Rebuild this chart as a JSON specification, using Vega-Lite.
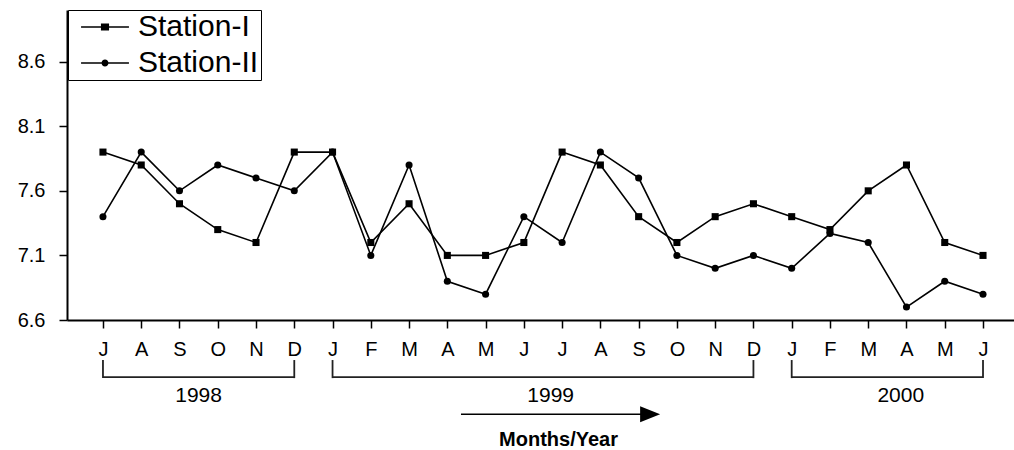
{
  "$schema": "https://vega.github.io/schema/vega-lite/v6.json",
  "width": 947,
  "height": 310,
  "autosize": {"type": "none"},
  "padding": {"left": 67, "top": 10, "right": 0, "bottom": 130},
  "background": "white",
  "config": {"view": {"stroke": null}, "font": "Liberation Sans"},
  "datasets": {
    "obs": [
      {"t": 0, "month": "Jul 1998", "station": "Station-I", "value": 7.9},
      {"t": 1, "month": "Aug 1998", "station": "Station-I", "value": 7.8},
      {"t": 2, "month": "Sep 1998", "station": "Station-I", "value": 7.5},
      {"t": 3, "month": "Oct 1998", "station": "Station-I", "value": 7.3},
      {"t": 4, "month": "Nov 1998", "station": "Station-I", "value": 7.2},
      {"t": 5, "month": "Dec 1998", "station": "Station-I", "value": 7.9},
      {"t": 6, "month": "Jan 1999", "station": "Station-I", "value": 7.9},
      {"t": 7, "month": "Feb 1999", "station": "Station-I", "value": 7.2},
      {"t": 8, "month": "Mar 1999", "station": "Station-I", "value": 7.5},
      {"t": 9, "month": "Apr 1999", "station": "Station-I", "value": 7.1},
      {"t": 10, "month": "May 1999", "station": "Station-I", "value": 7.1},
      {"t": 11, "month": "Jun 1999", "station": "Station-I", "value": 7.2},
      {"t": 12, "month": "Jul 1999", "station": "Station-I", "value": 7.9},
      {"t": 13, "month": "Aug 1999", "station": "Station-I", "value": 7.8},
      {"t": 14, "month": "Sep 1999", "station": "Station-I", "value": 7.4},
      {"t": 15, "month": "Oct 1999", "station": "Station-I", "value": 7.2},
      {"t": 16, "month": "Nov 1999", "station": "Station-I", "value": 7.4},
      {"t": 17, "month": "Dec 1999", "station": "Station-I", "value": 7.5},
      {"t": 18, "month": "Jan 2000", "station": "Station-I", "value": 7.4},
      {"t": 19, "month": "Feb 2000", "station": "Station-I", "value": 7.3},
      {"t": 20, "month": "Mar 2000", "station": "Station-I", "value": 7.6},
      {"t": 21, "month": "Apr 2000", "station": "Station-I", "value": 7.8},
      {"t": 22, "month": "May 2000", "station": "Station-I", "value": 7.2},
      {"t": 23, "month": "Jun 2000", "station": "Station-I", "value": 7.1},
      {"t": 0, "month": "Jul 1998", "station": "Station-II", "value": 7.4},
      {"t": 1, "month": "Aug 1998", "station": "Station-II", "value": 7.9},
      {"t": 2, "month": "Sep 1998", "station": "Station-II", "value": 7.6},
      {"t": 3, "month": "Oct 1998", "station": "Station-II", "value": 7.8},
      {"t": 4, "month": "Nov 1998", "station": "Station-II", "value": 7.7},
      {"t": 5, "month": "Dec 1998", "station": "Station-II", "value": 7.6},
      {"t": 6, "month": "Jan 1999", "station": "Station-II", "value": 7.9},
      {"t": 7, "month": "Feb 1999", "station": "Station-II", "value": 7.1},
      {"t": 8, "month": "Mar 1999", "station": "Station-II", "value": 7.8},
      {"t": 9, "month": "Apr 1999", "station": "Station-II", "value": 6.9},
      {"t": 10, "month": "May 1999", "station": "Station-II", "value": 6.8},
      {"t": 11, "month": "Jun 1999", "station": "Station-II", "value": 7.4},
      {"t": 12, "month": "Jul 1999", "station": "Station-II", "value": 7.2},
      {"t": 13, "month": "Aug 1999", "station": "Station-II", "value": 7.9},
      {"t": 14, "month": "Sep 1999", "station": "Station-II", "value": 7.7},
      {"t": 15, "month": "Oct 1999", "station": "Station-II", "value": 7.1},
      {"t": 16, "month": "Nov 1999", "station": "Station-II", "value": 7.0},
      {"t": 17, "month": "Dec 1999", "station": "Station-II", "value": 7.1},
      {"t": 18, "month": "Jan 2000", "station": "Station-II", "value": 7.0},
      {"t": 19, "month": "Feb 2000", "station": "Station-II", "value": 7.27},
      {"t": 20, "month": "Mar 2000", "station": "Station-II", "value": 7.2},
      {"t": 21, "month": "Apr 2000", "station": "Station-II", "value": 6.7},
      {"t": 22, "month": "May 2000", "station": "Station-II", "value": 6.9},
      {"t": 23, "month": "Jun 2000", "station": "Station-II", "value": 6.8}
    ],
    "years": [
      {"year": "1998", "first": 0, "last": 5, "mid": 2.5},
      {"year": "1999", "first": 6, "last": 17, "mid": 11.7},
      {"year": "2000", "first": 18, "last": 23, "mid": 20.85}
    ]
  },
  "resolve": {"scale": {"shape": "independent"}, "legend": {"shape": "independent"}},
  "layer": [
    {
      "data": {"name": "obs"},
      "mark": {"type": "line", "color": "black", "strokeWidth": 1.6},
      "encoding": {
        "x": {
          "field": "t",
          "type": "quantitative",
          "scale": {"domain": [-0.94, 23.81], "nice": false, "zero": false},
          "axis": {
            "values": [0,1,2,3,4,5,6,7,8,9,10,11,12,13,14,15,16,17,18,19,20,21,22,23],
            "labelExpr": "['J','F','M','A','M','J','J','A','S','O','N','D'][(datum.value + 6) % 12]",
            "labelFontSize": 20,
            "labelColor": "black",
            "labelOverlap": false,
            "labelFlush": false,
            "labelBound": false,
            "labelPadding": 11,
            "tickSize": 8,
            "tickColor": "black",
            "tickWidth": 1.5,
            "domainColor": "black",
            "domainWidth": 2,
            "grid": false,
            "titleFontSize": 20,
            "titleFontWeight": "bold",
            "titleColor": "black",
            "titleX": 491,
            "titleY": 109,
            "titleBaseline": "top"
          },
          "title": "Months/Year"
        },
        "y": {
          "field": "value",
          "type": "quantitative",
          "scale": {"domain": [6.6, 9.0], "nice": false, "zero": false},
          "axis": {
            "values": [6.6, 7.1, 7.6, 8.1, 8.6],
            "format": ".1f",
            "labelFontSize": 20,
            "labelColor": "black",
            "labelFlush": false,
            "labelPadding": 14,
            "tickSize": 8,
            "tickColor": "black",
            "tickWidth": 1.5,
            "domainColor": "black",
            "domainWidth": 2,
            "grid": false
          },
          "title": null
        },
        "detail": {"field": "station", "type": "nominal"}
      }
    },
    {
      "data": {"name": "obs"},
      "mark": {"type": "point", "filled": true, "color": "black", "opacity": 1, "size": 50},
      "encoding": {
        "x": {"field": "t", "type": "quantitative"},
        "y": {"field": "value", "type": "quantitative"},
        "shape": {
          "field": "station",
          "type": "nominal",
          "scale": {"domain": ["Station-I", "Station-II"], "range": ["square", "circle"]},
          "legend": null
        }
      }
    },
    {
      "data": {"name": "obs"},
      "mark": {"type": "point", "filled": true, "color": "black", "opacity": 0, "size": 784},
      "encoding": {
        "x": {"field": "t", "type": "quantitative"},
        "y": {"field": "value", "type": "quantitative"},
        "shape": {
          "field": "station",
          "type": "nominal",
          "scale": {
            "domain": ["Station-I", "Station-II"],
            "range": [
              "M-1.71,-0.05H1.71V0.05H-1.71ZM-0.29,-0.25H0.29V0.25H-0.29Z",
              "M-1.71,-0.05H1.71V0.05H-1.71ZM0.25,0A0.25,0.25,0,1,1,-0.25,0A0.25,0.25,0,1,1,0.25,0Z"
            ]
          },
          "legend": {
            "title": null,
            "orient": "none",
            "legendX": 1,
            "legendY": 0,
            "strokeColor": "black",
            "fillColor": "white",
            "padding": 2,
            "symbolSize": 784,
            "symbolOpacity": 1,
            "symbolFillColor": "black",
            "symbolStrokeColor": "black",
            "symbolStrokeWidth": 0.5,
            "symbolOffset": 20,
            "labelOffset": 18,
            "rowPadding": 6,
            "labelFontSize": 30,
            "labelFont": "Liberation Sans",
            "labelColor": "black"
          }
        }
      }
    },
    {
      "data": {"name": "years"},
      "mark": {"type": "rule", "color": "#222", "strokeWidth": 1.8},
      "encoding": {
        "x": {"field": "first", "type": "quantitative"},
        "x2": {"field": "last"},
        "y": {"datum": 6.158, "type": "quantitative"}
      }
    },
    {
      "data": {"name": "years"},
      "mark": {"type": "rule", "color": "#222", "strokeWidth": 1.8},
      "encoding": {
        "x": {"field": "first", "type": "quantitative"},
        "y": {"datum": 6.29, "type": "quantitative"},
        "y2": {"datum": 6.15}
      }
    },
    {
      "data": {"name": "years"},
      "mark": {"type": "rule", "color": "#222", "strokeWidth": 1.8},
      "encoding": {
        "x": {"field": "last", "type": "quantitative"},
        "y": {"datum": 6.29, "type": "quantitative"},
        "y2": {"datum": 6.15}
      }
    },
    {
      "data": {"name": "years"},
      "mark": {"type": "text", "fontSize": 21, "color": "black", "baseline": "middle", "align": "center", "font": "Liberation Sans"},
      "encoding": {
        "x": {"field": "mid", "type": "quantitative"},
        "y": {"datum": 6.01, "type": "quantitative"},
        "text": {"field": "year"}
      }
    },
    {
      "data": {"values": [{"label": "direction"}]},
      "mark": {"type": "rule", "color": "black", "strokeWidth": 1.5},
      "encoding": {
        "x": {"datum": 9.357, "type": "quantitative"},
        "x2": {"datum": 14.1},
        "y": {"datum": 5.871, "type": "quantitative"}
      }
    },
    {
      "data": {"values": [{"label": "direction"}]},
      "mark": {"type": "point", "filled": true, "color": "black", "opacity": 1, "size": 400, "shape": "M-1,-0.8L1,0L-1,0.8Z"},
      "encoding": {
        "x": {"datum": 14.3, "type": "quantitative"},
        "y": {"datum": 5.871, "type": "quantitative"}
      }
    }
  ]
}
